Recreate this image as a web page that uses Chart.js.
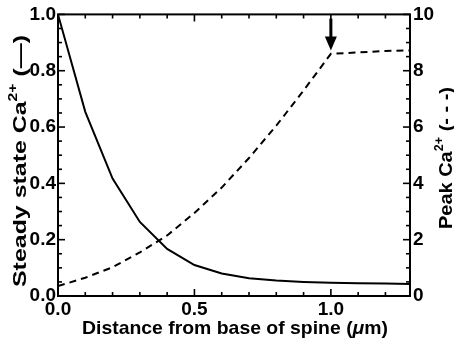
<!DOCTYPE html>
<html>
<head>
<meta charset="utf-8">
<script src="https://cdn.jsdelivr.net/npm/chart.js@4.4.1/dist/chart.umd.min.js"></script>
<style>
html,body{margin:0;padding:0;background:#fff;}
#wrap{width:454px;height:339px;position:relative;}
</style>
</head>
<body>
<div id="wrap"><canvas id="c" width="454" height="339"></canvas></div>
<script>
// ---- data ----
const distance = [0, 0.1, 0.2, 0.3, 0.4, 0.5, 0.6, 0.7, 0.8, 0.9, 1.0, 1.1, 1.2, 1.29];
const steadyCa = [1.0, 0.654, 0.417, 0.263, 0.167, 0.11, 0.08, 0.063, 0.055, 0.05, 0.047, 0.045, 0.044, 0.043];
const peakCa   = [0.35, 0.65, 1.02, 1.55, 2.15, 2.95, 3.85, 4.9, 6.05, 7.3, 8.6, 8.65, 8.7, 8.72];
const xTickLabels = ['0.0', '0.5', '1.0'];
const leftTickLabels = ['0.0', '0.2', '0.4', '0.6', '0.8', '1.0'];
const rightTickLabels = ['0', '2', '4', '6', '8', '10'];
const xTitle = ['Distance from base of spine (', 'μ', 'm)'];
const leftTitle = ['Steady state Ca', '2+', ' (—)'];
const rightTitle = ['Peak Ca', '2+', ' (- - -)'];
const arrowAt = 1.0;          // distance where the arrow points
const arrowRange = [9.85, 8.72]; // peak Ca2+ values: tail, tip

const FONT = '"Liberation Sans", Arial, Helvetica, sans-serif';

const framePlugin = {
  id: 'frame',
  afterDatasetsDraw(chart) {
    const {ctx, chartArea: a, scales} = chart;
    const x = scales.x, yl = scales.y, yr = scales.y2;
    ctx.save();
    ctx.strokeStyle = '#000';
    ctx.lineCap = 'butt';
    // frame
    ctx.lineWidth = 2;
    ctx.strokeRect(a.left, a.top, a.right - a.left, a.bottom - a.top);
    ctx.lineWidth = 1.6;
    const major = 7, minor = 4;
    // x ticks bottom & top
    for (let i = 0; i <= 12; i++) {
      const v = i / 10;
      const px = x.getPixelForValue(v);
      const len = (i % 5 === 0) ? major : minor;
      ctx.beginPath();
      ctx.moveTo(px, a.bottom); ctx.lineTo(px, a.bottom - len);
      ctx.moveTo(px, a.top); ctx.lineTo(px, a.top + len);
      ctx.stroke();
    }
    // left ticks
    for (let i = 0; i <= 20; i++) {
      const py = yl.getPixelForValue(i * 0.05);
      const len = (i % 4 === 0) ? major : minor;
      ctx.beginPath(); ctx.moveTo(a.left, py); ctx.lineTo(a.left + len, py); ctx.stroke();
    }
    // right ticks
    for (let i = 0; i <= 20; i++) {
      const py = yr.getPixelForValue(i * 0.5);
      const len = (i % 4 === 0) ? major : minor;
      ctx.beginPath(); ctx.moveTo(a.right, py); ctx.lineTo(a.right - len, py); ctx.stroke();
    }
    // arrow
    const ax = x.getPixelForValue(arrowAt);
    const y0 = yr.getPixelForValue(arrowRange[0]);
    const y1 = yr.getPixelForValue(arrowRange[1]);
    const headLen = 14;
    ctx.lineWidth = 3;
    ctx.beginPath(); ctx.moveTo(ax, y0); ctx.lineTo(ax, y1 - headLen + 1); ctx.stroke();
    ctx.fillStyle = '#000';
    ctx.beginPath();
    ctx.moveTo(ax - 6, y1 - headLen);
    ctx.lineTo(ax + 6, y1 - headLen);
    ctx.lineTo(ax, y1);
    ctx.closePath(); ctx.fill();

    // titles
    const size = 19;
    function runs(parts) {
      return [
        {text: parts[0], font: `bold ${size}px ${FONT}`, dy: 0},
        {text: parts[1], font: `bold ${Math.round(size*0.62)}px ${FONT}`, dy: -size*0.38},
        {text: parts[2], font: `bold ${size}px ${FONT}`, dy: 0}
      ];
    }
    function drawRuns(rs, cx, cy, rot, target) {
      ctx.save();
      ctx.translate(cx, cy);
      ctx.rotate(rot);
      let w = 0;
      rs.forEach(r => { ctx.font = r.font; r.w = ctx.measureText(r.text).width; w += r.w; });
      if (target) ctx.scale(target / w, 1);
      let px = -w / 2;
      ctx.textBaseline = 'middle';
      ctx.fillStyle = '#000';
      rs.forEach(r => { ctx.font = r.font; ctx.fillText(r.text, px, r.dy); px += r.w; });
      ctx.restore();
    }
    drawRuns(runs(leftTitle), 21, 161, -Math.PI / 2, 252);
    drawRuns(runs(rightTitle), 447, 158, -Math.PI / 2, 142);
    drawRuns([
      {text: xTitle[0], font: `bold 19px ${FONT}`, dy: 0},
      {text: xTitle[1], font: `italic bold 19px ${FONT}`, dy: 0},
      {text: xTitle[2], font: `bold 19px ${FONT}`, dy: 0}
    ], 235, 329, 0, 306);
    ctx.restore();
  }
};

const pts = (ys) => distance.map((d, i) => ({x: d, y: ys[i]}));
const tickFont = {family: FONT, size: 19, weight: 'bold'};

new Chart(document.getElementById('c'), {
  type: 'line',
  data: {
    datasets: [
      {label: 'Steady state Ca2+', data: pts(steadyCa), yAxisID: 'y', borderColor: '#000',
       borderWidth: 2, pointRadius: 0, tension: 0, fill: false},
      {label: 'Peak Ca2+', data: pts(peakCa), yAxisID: 'y2', borderColor: '#000',
       borderWidth: 2, borderDash: [7, 5], pointRadius: 0, tension: 0, fill: false}
    ]
  },
  options: {
    responsive: false,
    animation: false,
    layout: {padding: {top: 14, left: 0, right: 0, bottom: 0}},
    plugins: {legend: {display: false}, tooltip: {enabled: false}},
    scales: {
      x: {
        type: 'linear', min: 0, max: 1.29,
        grid: {display: false, drawTicks: false}, border: {display: false},
        ticks: {stepSize: 0.5, includeBounds: false, padding: 2, maxRotation: 0, color: '#000',
                font: tickFont,
                callback: (v) => { const i = Math.round(v * 2); return (Math.abs(v*2 - i) < 1e-6 && xTickLabels[i]) ? xTickLabels[i] : ''; }},
        afterFit: (s) => { s.height = 43; }
      },
      y: {
        position: 'left', min: 0, max: 1,
        grid: {display: false, drawTicks: false}, border: {display: false},
        ticks: {stepSize: 0.2, padding: 2, color: '#000', font: tickFont,
                callback: (v) => leftTickLabels[Math.round(v * 5)]},
        afterFit: (s) => { s.width = 58; }
      },
      y2: {
        position: 'right', min: 0, max: 10,
        grid: {display: false, drawTicks: false}, border: {display: false},
        ticks: {stepSize: 2, padding: 3, color: '#000', font: tickFont,
                callback: (v) => rightTickLabels[Math.round(v / 2)]},
        afterFit: (s) => { s.width = 44; }
      }
    }
  },
  plugins: [framePlugin]
});
</script>
</body>
</html>
